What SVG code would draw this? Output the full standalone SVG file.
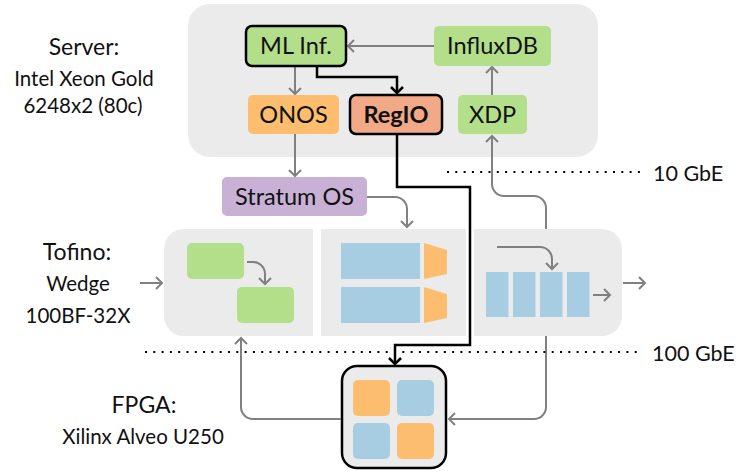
<svg xmlns="http://www.w3.org/2000/svg" width="737" height="472" viewBox="0 0 737 472">
<style>
text{font-family:Lato,"Liberation Sans",sans-serif;fill:#111}
.lbl{font-size:23.5px;text-anchor:middle}
.side{font-size:20.5px;text-anchor:middle}
.sideh{font-size:23px;text-anchor:middle}
.gbe{font-size:21.5px}
.bg{fill:#ebebeb}
.g{fill:#b3df8a}
.o{fill:#fdbd6e}
.b{fill:#a7cde3}
.gc{fill:none;stroke:#808080;stroke-width:2;marker-end:url(#ga)}
.bc{fill:none;stroke:#000;stroke-width:2.5;marker-end:url(#ba)}
.dot{fill:none;stroke:#000;stroke-width:2.2;stroke-dasharray:2 6.3}
</style>
<defs>
<marker id="ga" viewBox="-10 -10 20 20" markerWidth="20" markerHeight="20" markerUnits="userSpaceOnUse" refX="0" refY="0" orient="auto">
<path d="M-6,-6 L0,0 L-6,6" fill="none" stroke="#808080" stroke-width="2"/>
</marker>
<marker id="ba" viewBox="-10 -10 20 20" markerWidth="20" markerHeight="20" markerUnits="userSpaceOnUse" refX="0" refY="0" orient="auto">
<path d="M-6,-6 L0,0 L-6,6" fill="none" stroke="#000" stroke-width="2.5"/>
</marker>
</defs>

<g id="server">
<rect class="bg" x="188" y="4" width="410" height="153" rx="22"/>
</g>
<g id="tofino">
<path class="bg" d="M184,229 H313 V336 H184 A20,20 0 0 1 164,316 V249 A20,20 0 0 1 184,229 Z"/>
<rect class="bg" x="321" y="229" width="145" height="107"/>
<path class="bg" d="M474,229 H602 A20,20 0 0 1 622,249 V316 A20,20 0 0 1 602,336 H474 Z"/>
<rect class="g" x="187" y="243" width="57" height="36" rx="5"/>
<rect class="g" x="237" y="287" width="57" height="36" rx="5"/>
<rect class="b" x="341" y="243" width="79" height="36"/>
<rect class="b" x="341" y="287" width="79" height="36"/>
<polygon class="o" points="424,243 447,250 447,274 424,279"/>
<polygon class="o" points="424,287 447,294 447,318 424,323"/>
<rect class="b" x="486" y="272" width="22.5" height="45"/>
<rect class="b" x="513" y="272" width="22.5" height="45"/>
<rect class="b" x="540" y="272" width="22.5" height="45"/>
<rect class="b" x="567" y="272" width="22.5" height="45"/>
</g>
<g id="fpga">
<rect x="342" y="366" width="104" height="102" rx="15" fill="#ebebeb" stroke="#000" stroke-width="2.5"/>
<rect class="o" x="353" y="380" width="37" height="36" rx="5"/>
<rect class="b" x="397" y="380" width="37" height="36" rx="5"/>
<rect class="b" x="353" y="423" width="37" height="36" rx="5"/>
<rect class="o" x="397" y="423" width="37" height="36" rx="5"/>
</g>

<g id="connectors">
<path class="gc" d="M434,46 H348"/>
<path class="gc" d="M295,66 V94"/>
<path class="gc" d="M492,95 V67"/>
<path class="gc" d="M295,134 V176"/>
<path class="gc" d="M367,197 H395 A12,12 0 0 1 407,209 V227"/>
<path class="gc" d="M546,229 V208 A12,12 0 0 0 534,196 H504 A12,12 0 0 1 492,184 V136"/>
<path class="gc" d="M546,336 V407 A12,12 0 0 1 534,419 H449"/>
<path class="gc" d="M341,419 H253 A12,12 0 0 1 241,407 V338"/>
<path class="gc" d="M140,283 H162"/>
<path class="gc" d="M623,283 H645"/>
<path class="gc" d="M247,262 H253 A12,12 0 0 1 265,274 V284"/>
<path class="gc" d="M497,247 H540 A12,12 0 0 1 552,259 V269"/>
<path class="gc" d="M593,295 H610"/>
<path class="bc" d="M317,67 V77 H397 V93"/>
<path class="bc" d="M397,134 V187 H470 V345 H395 V364"/>
</g>

<g id="ml">
<rect x="246" y="26" width="100" height="40" rx="6" fill="#b3df8a" stroke="#000" stroke-width="2.5"/>
<text class="lbl" x="296" y="54">ML Inf.</text>
</g>
<g id="influxdb">
<rect class="g" x="434" y="26" width="117" height="40" rx="5"/>
<text class="lbl" x="492.5" y="54">InfluxDB</text>
</g>
<g id="onos">
<rect class="o" x="248" y="95" width="91" height="39" rx="5"/>
<text class="lbl" x="293.5" y="123">ONOS</text>
</g>
<g id="regio">
<rect x="350" y="95" width="92" height="39" rx="6" fill="#f2a987" stroke="#000" stroke-width="2.5"/>
<text class="lbl" x="396" y="123" font-weight="bold">RegIO</text>
</g>
<g id="xdp">
<rect class="g" x="458" y="95" width="69" height="39" rx="5"/>
<text class="lbl" x="492.5" y="123">XDP</text>
</g>
<g id="stratum">
<rect x="222" y="177" width="145" height="39" rx="5" fill="#c9b1d6"/>
<text class="lbl" x="294.5" y="205">Stratum OS</text>
</g>

<g id="labels">
<text class="sideh" x="84" y="55">Server:</text>
<text class="side" x="84" y="86">Intel Xeon Gold</text>
<text class="side" x="83" y="113">6248x2 (80c)</text>
<text class="sideh" x="77" y="260">Tofino:</text>
<text class="side" x="78" y="291">Wedge</text>
<text class="side" x="78" y="323">100BF-32X</text>
<text class="sideh" x="144" y="413">FPGA:</text>
<text class="side" x="143" y="444">Xilinx Alveo U250</text>
<text class="gbe" x="653" y="181">10 GbE</text>
<text class="gbe" x="652" y="361">100 GbE</text>
<path class="dot" d="M447,172 H640"/>
<path class="dot" d="M145,352 H640"/>
</g>
</svg>
